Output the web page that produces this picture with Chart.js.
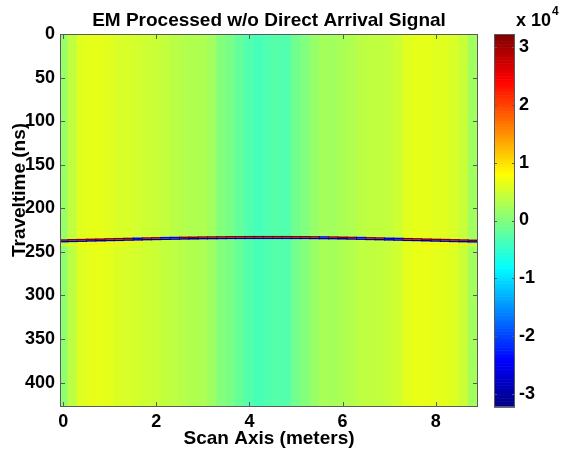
<!DOCTYPE html>
<html><head><meta charset="utf-8">
<script src="https://cdn.jsdelivr.net/npm/chart.js@4/dist/chart.umd.min.js"></script>
<style>html,body{margin:0;padding:0;background:#fff}</style>
</head><body>
<canvas id="c" width="561" height="452"></canvas>
<script>
// ---- data ----
const scanX = [0,0.2,0.4,0.6,0.8,1,1.2,1.4,1.6,1.8,2,2.2,2.4,2.6,2.8,3,3.2,3.4,3.6,3.8,4,4.2,4.4,4.6,4.8,5,5.2,5.4,5.6,5.8,6,6.2,6.4,6.6,6.8,7,7.2,7.4,7.6,7.8,8,8.2,8.4,8.6,8.8];
const bgAbove = [1400,4000,6200,6500,6500,6200,5600,5600,5200,4900,4600,4300,3700,3300,3000,3000,2100,200,-500,-1800,-3000,-3700,-3000,-2700,-3000,-1000,0,1400,2400,2100,2700,3000,3700,4000,4000,4300,4900,6200,6500,6500,6200,6200,5600,4600,2100];
const bgBelow = [900,3800,6000,6400,6600,6300,5800,5600,5300,5000,4700,4200,3800,3400,3100,2900,2000,300,-400,-1700,-2900,-3500,-3100,-2600,-2800,-900,200,1500,2600,2300,2900,3200,3800,4100,4200,4500,5100,6300,6700,6800,6400,6300,5900,4800,2300];
const reflTime = [235.5,235.2,235.0,234.7,234.5,234.2,234.0,233.7,233.5,233.2,233.0,232.8,232.6,232.4,232.3,232.1,232.0,231.9,231.8,231.8,231.7,231.7,231.7,231.7,231.7,231.8,231.8,231.9,232.0,232.1,232.3,232.5,232.7,233.0,233.2,233.5,233.7,234.0,234.2,234.5,234.8,235.0,235.3,235.5,235.8];
const posLobe = [32000,32000,32000,32000,32000,32000,32000,32000,-26000,32000,32000,-26000,-26000,32000,32000,32000,32000,32000,32000,32000,32000,32000,32000,32000,32000,32000,32000,32000,-26000,32000,32000,32000,-26000,32000,32000,-26000,-26000,32000,32000,32000,32000,32000,32000,32000,32000];
const negLobe = [-32000,-32000,-32000,-32000,-32000,-32000,-32000,-32000,-32000,-32000,-32000,-32000,-32000,-32000,-32000,-32000,-32000,-32000,-32000,-32000,-32000,-32000,-32000,-32000,-32000,-32000,-32000,-32000,-32000,-32000,-32000,-32000,-32000,-32000,-32000,-32000,-32000,-32000,-32000,-32000,-32000,-32000,-32000,-32000,-32000];
const ghost = [9000,9000,9000,9000,9000,9000,9000,9000,9000,null,null,null,null,null,null,null,null,null,null,null,null,null,null,null,null,null,null,null,null,null,null,null,null,null,null,null,null,null,null,9000,9000,9000,9000,9000,9000];
const timeTicks = [0,50,100,150,200,250,300,350,400];
const scanTicks = [0,2,4,6,8];
const cbTicks = [-3,-2,-1,0,1,2,3];
const lobeWidth = 1.8;    // ns per lobe of the reflector wavelet
const ghostOffset = [6, 7.5];
const timeMax = 428;
const cLim = 3.23;        // colour limits, x 10^4

// ---- colour map (MATLAB jet) ----
function jet(v){
  const t = Math.min(1, Math.max(0, (v/1e4 + cLim) / (2*cLim)));
  const f = c => Math.round(255*Math.min(1, Math.max(0, 1.5 - Math.abs(4*t - c))));
  return 'rgb(' + f(3) + ',' + f(2) + ',' + f(1) + ')';
}

const barCommon = {type:'bar', grouped:false, categoryPercentage:1, barPercentage:1.12, borderWidth:0, xAxisID:'x', yAxisID:'y'};
const datasets = [
  Object.assign({label:'ghost', data: scanX.map((x,i)=>({x, y: ghost[i]==null?null:[reflTime[i]+ghostOffset[0], reflTime[i]+ghostOffset[1]]})), backgroundColor: scanX.map((x,i)=>ghost[i]==null?'rgba(0,0,0,0)':jet(ghost[i]))}, barCommon),
  Object.assign({label:'pos', data: scanX.map((x,i)=>({x, y:[reflTime[i], reflTime[i]+lobeWidth]})), backgroundColor: posLobe.map(jet)}, barCommon),
  Object.assign({label:'neg', data: scanX.map((x,i)=>({x, y:[reflTime[i]+lobeWidth, reflTime[i]+2*lobeWidth]})), backgroundColor: negLobe.map(jet)}, barCommon),
  Object.assign({label:'above', data: scanX.map((x,i)=>({x, y:[0, reflTime[i]]})), backgroundColor: bgAbove.map(jet)}, barCommon),
  Object.assign({label:'below', data: scanX.map((x,i)=>({x, y:[reflTime[i]+2*lobeWidth, timeMax]})), backgroundColor: bgBelow.map(jet)}, barCommon)
];

const FONT = "'Liberation Sans', Arial, sans-serif";
Chart.defaults.font.family = FONT;
Chart.defaults.font.weight = 'bold';
Chart.defaults.color = '#000';

function noPad(s){ s.paddingTop = 0; s.paddingBottom = 0; s.paddingLeft = 0; s.paddingRight = 0; }

const decor = {
  id:'decor',
  afterDraw(chart){
    const ctx = chart.ctx, a = chart.chartArea, sx = chart.scales.x, sy = chart.scales.y, cb = chart.scales.cb;
    ctx.save();
    // frame + inward ticks
    ctx.strokeStyle = '#5a5a5a'; ctx.lineWidth = 1;
    ctx.strokeRect(Math.round(a.left)+0.5, Math.round(a.top)+0.5, Math.round(a.right-a.left)-1, Math.round(a.bottom-a.top)-1);
    ctx.beginPath();
    scanTicks.forEach(v=>{ const px = Math.round(sx.getPixelForValue(v))+0.5;
      ctx.moveTo(px, a.bottom); ctx.lineTo(px, a.bottom-5); ctx.moveTo(px, a.top); ctx.lineTo(px, a.top+5); });
    timeTicks.forEach(v=>{ const py = Math.round(sy.getPixelForValue(v))+0.5;
      ctx.moveTo(a.left, py); ctx.lineTo(a.left+5, py); ctx.moveTo(a.right, py); ctx.lineTo(a.right-5, py); });
    ctx.stroke();
    // colour bar
    const cbL = 494, cbW = 21;
    const top = cb.getPixelForValue(cLim), bot = cb.getPixelForValue(-cLim);
    const N = 256;
    for(let k=0;k<N;k++){
      const v0 = -cLim + 2*cLim*k/N, v1 = -cLim + 2*cLim*(k+1)/N;
      const y0 = cb.getPixelForValue(v0), y1 = cb.getPixelForValue(v1);
      ctx.fillStyle = jet((v0+v1)/2*1e4);
      ctx.fillRect(cbL, y1, cbW, y0-y1+0.6);
    }
    ctx.strokeStyle = '#5a5a5a';
    ctx.strokeRect(cbL+0.5, Math.round(top)+0.5, cbW-1, Math.round(bot-top)-1);
    ctx.beginPath();
    cbTicks.forEach(v=>{ const py = Math.round(cb.getPixelForValue(v))+0.5;
      ctx.moveTo(cbL, py); ctx.lineTo(cbL+3, py); ctx.moveTo(cbL+cbW, py); ctx.lineTo(cbL+cbW-3, py); });
    ctx.stroke();
    // x 10^4 label
    ctx.fillStyle = '#000';
    ctx.textBaseline = 'alphabetic'; ctx.textAlign = 'left';
    ctx.font = 'bold 18px ' + FONT;
    ctx.fillText('x 10', 516, 26);
    const w = ctx.measureText('x 10').width;
    ctx.font = 'bold 12px ' + FONT;
    ctx.fillText('4', 516 + w + 1, 15);
    // y-axis title
    ctx.font = 'bold 19px ' + FONT;
    ctx.translate(20, 190); ctx.rotate(-Math.PI/2);
    ctx.textAlign = 'center'; ctx.textBaseline = 'middle';
    ctx.fillText('Traveltime (ns)', 0, 0);
    ctx.restore();
  }
};

new Chart(document.getElementById('c'), {
  type:'bar',
  data:{datasets},
  plugins:[decor],
  options:{
    responsive:false, animation:false, events:[],
    layout:{padding:0},
    plugins:{
      legend:{display:false}, tooltip:{enabled:false},
      title:{display:true, text:'EM Processed w/o Direct Arrival Signal', fullSize:false,
        font:{size:19, weight:'bold'}, color:'#000', padding:{top:9, bottom:2.2}}
    },
    scales:{
      x:{type:'linear', position:'bottom', min:-0.07, max:8.91, offset:false,
        grid:{display:false, drawTicks:false, offset:false}, border:{display:false},
        ticks:{includeBounds:false, stepSize:2, padding:4, font:{size:18, weight:'bold'}, color:'#000', maxRotation:0, autoSkip:false,
          callback:v=>scanTicks.includes(v)?String(v):''},
        title:{display:true, text:'Scan Axis (meters)', font:{size:19, weight:'bold'}, color:'#000', padding:{top:0, bottom:2}},
        afterFit:s=>{s.height=45; noPad(s);}},
      y:{type:'linear', position:'left', reverse:true, min:0, max:timeMax,
        grid:{display:false, drawTicks:false}, border:{display:false},
        ticks:{includeBounds:false, stepSize:50, padding:5, font:{size:18, weight:'bold'}, color:'#000', autoSkip:false,
          callback:v=>timeTicks.includes(v)?String(v):''},
        afterFit:s=>{s.width=60; noPad(s);}},
      cb:{type:'linear', position:'right', min:-cLim, max:cLim,
        grid:{display:false, drawTicks:false}, border:{display:false},
        ticks:{includeBounds:false, stepSize:1, padding:41, font:{size:18, weight:'bold'}, color:'#000', autoSkip:false,
          callback:v=>cbTicks.includes(v)?String(v):''},
        afterFit:s=>{s.width=83; noPad(s);}}
    }
  }
});
</script>
</body></html>
